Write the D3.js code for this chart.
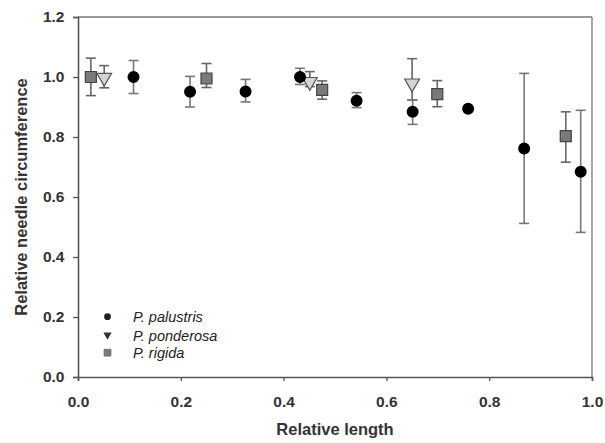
<!DOCTYPE html>
<html><head><meta charset="utf-8">
<script src="https://cdn.jsdelivr.net/npm/d3@7/dist/d3.min.js"></script>
<style>body{margin:0;background:#fff}svg{display:block}</style>
</head><body>
<script>
const xTicks = [0, 0.2, 0.4, 0.6, 0.8, 1.0];
const yTicks = [0, 0.2, 0.4, 0.6, 0.8, 1.0, 1.2];
const seriesNames = ["P. palustris", "P. ponderosa", "P. rigida"];

// P. palustris
const palX  = [0.108, 0.218, 0.326, 0.432, 0.542, 0.651, 0.759, 0.868, 0.978];
const palY  = [1.000, 0.951, 0.952, 1.000, 0.921, 0.884, 0.894, 0.762, 0.684];
const palHi = [1.055, 1.002, 0.992, 1.029, 0.948, 0.923, 0.902, 1.012, 0.889];
const palLo = [0.945, 0.900, 0.917, 0.975, 0.898, 0.842, 0.886, 0.512, 0.482];
// P. ponderosa
const ponX  = [0.051, 0.451, 0.650];
const ponY  = [0.998, 0.984, 0.979];
const ponHi = [1.038, 1.018, 1.061];
const ponLo = [0.964, 0.968, 0.923];
// P. rigida
const rigX  = [0.025, 0.250, 0.475, 0.699, 0.949];
const rigY  = [1.000, 0.995, 0.957, 0.943, 0.803];
const rigHi = [1.063, 1.045, 0.987, 0.988, 0.884];
const rigLo = [0.938, 0.965, 0.926, 0.901, 0.716];

const W = 605, H = 443;
const m = {l: 78, r: 13, t: 17, b: 66};
const svg = d3.select("body").append("svg").attr("width", W).attr("height", H);
const x = d3.scaleLinear().domain([0, 1]).range([m.l, W - m.r]);
const y = d3.scaleLinear().domain([0, 1.2]).range([H - m.b, m.t]);

const font = "Liberation Sans, Arial, sans-serif";

// frame top & right
svg.append("line").attr("x1", x(0)).attr("x2", x(1)).attr("y1", y(1.2)).attr("y2", y(1.2))
  .attr("stroke", "#777").attr("stroke-width", 1.3);
svg.append("line").attr("x1", x(1)).attr("x2", x(1)).attr("y1", y(1.2)).attr("y2", y(0))
  .attr("stroke", "#777").attr("stroke-width", 1.3);

// axes
const gx = svg.append("g").attr("transform", `translate(0,${y(0)})`)
  .call(d3.axisBottom(x).tickValues(xTicks).tickFormat(d3.format(".1f")).tickSize(4).tickPadding(15));
const gy = svg.append("g").attr("transform", `translate(${x(0)},0)`)
  .call(d3.axisLeft(y).tickValues(yTicks).tickFormat(d3.format(".1f")).tickSize(5).tickPadding(8.5));
[gx, gy].forEach(g => {
  g.select(".domain").attr("stroke", "#555").attr("stroke-width", 1.6);
  g.selectAll(".tick line").attr("stroke", "#555").attr("stroke-width", 1.3);
  g.selectAll(".tick text").attr("fill", "#333").style("font-family", font)
    .style("font-size", "15.5px").style("font-weight", "bold");
});

// axis titles
svg.append("text").attr("x", x(0.5)).attr("y", 435).attr("text-anchor", "middle")
  .attr("fill", "#333").style("font-family", font).style("font-size", "16.5px").style("font-weight", "bold")
  .text("Relative length");
svg.append("text").attr("transform", `translate(27,${y(0.6)}) rotate(-90)`).attr("text-anchor", "middle")
  .attr("fill", "#333").style("font-family", font).style("font-size", "16.5px").style("font-weight", "bold")
  .text("Relative needle circumference");

function errorBars(X, Hi, Lo, color) {
  const g = svg.append("g").attr("stroke", color).attr("stroke-width", 1.6);
  X.forEach((v, i) => {
    g.append("line").attr("x1", x(v)).attr("x2", x(v)).attr("y1", y(Hi[i])).attr("y2", y(Lo[i]));
    [Hi[i], Lo[i]].forEach(e => g.append("line").attr("x1", x(v) - 5).attr("x2", x(v) + 5)
      .attr("y1", y(e)).attr("y2", y(e)));
  });
}

errorBars(rigX, rigHi, rigLo, "#666");
errorBars(ponX, ponHi, ponLo, "#666");
errorBars(palX, palHi, palLo, "#777");

const sq = d3.symbol().type(d3.symbolSquare);
const tri = d3.symbol().type(d3.symbolTriangle);
const circ = d3.symbol().type(d3.symbolCircle);

// rigida squares
svg.append("g").selectAll("path").data(rigX).join("path")
  .attr("d", sq.size(121)())
  .attr("transform", (d, i) => `translate(${x(d)},${y(rigY[i])})`)
  .attr("fill", "#7a7a7a").attr("stroke", "#444").attr("stroke-width", 1.2);
// ponderosa triangles (pointing down)
svg.append("g").selectAll("path").data(ponX).join("path")
  .attr("d", tri.size(95)())
  .attr("transform", (d, i) => `translate(${x(d)},${y(ponY[i])}) rotate(180)`)
  .attr("fill", "#d4d4d4").attr("stroke", "#555").attr("stroke-width", 1.2);
// palustris circles
svg.append("g").selectAll("path").data(palX).join("path")
  .attr("d", circ.size(113)())
  .attr("transform", (d, i) => `translate(${x(d)},${y(palY[i])})`)
  .attr("fill", "#000");

// legend
const lg = svg.append("g");
const ly = [316.7, 335, 352.7];
const lx = 107.5;
lg.append("path").attr("d", circ.size(36)()).attr("transform", `translate(${lx},${ly[0]})`).attr("fill", "#222");
lg.append("path").attr("d", tri.size(30)()).attr("transform", `translate(${lx},${ly[1]}) rotate(180)`).attr("fill", "#333");
lg.append("path").attr("d", sq.size(46)()).attr("transform", `translate(${lx},${ly[2]})`)
  .attr("fill", "#7a7a7a").attr("stroke", "#666").attr("stroke-width", 0.8);
seriesNames.forEach((n, i) => {
  lg.append("text").attr("x", 133).attr("y", ly[i] + 5.5).attr("fill", "#222")
    .style("font-family", font).style("font-size", "14.5px").style("font-style", "italic").text(n);
});
</script>
</body></html>
